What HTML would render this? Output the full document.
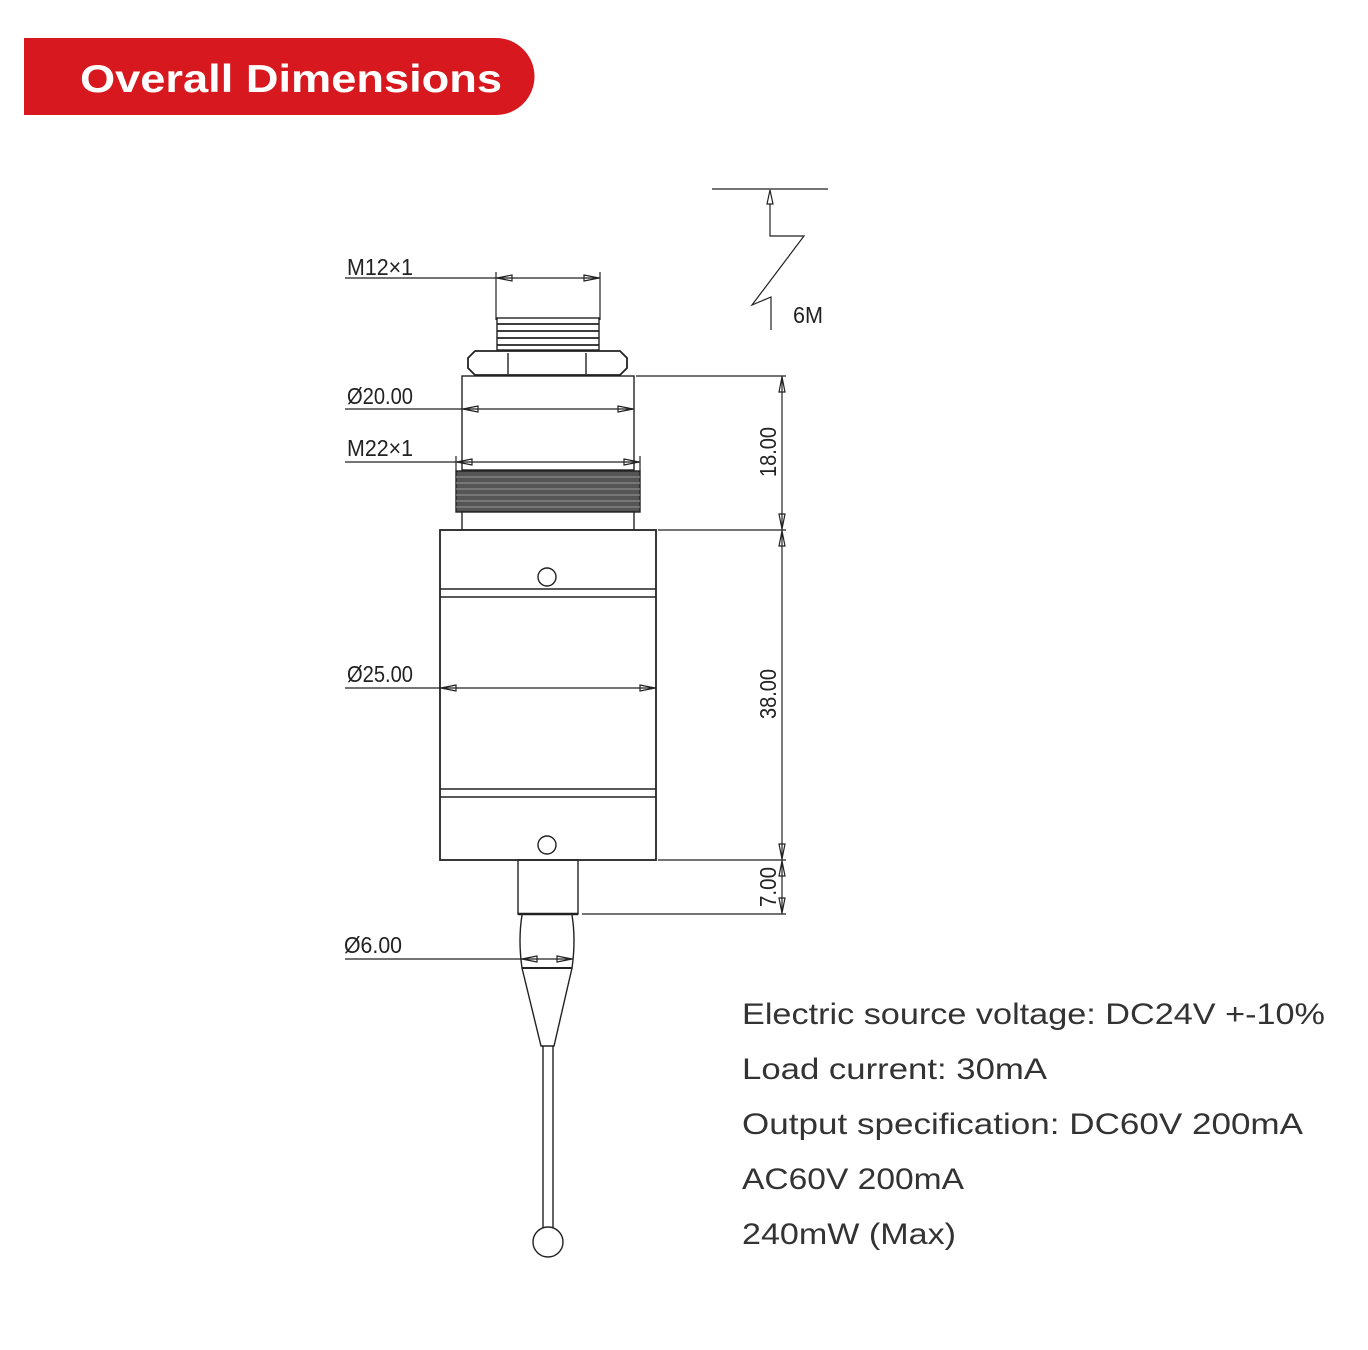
<!DOCTYPE html>
<html><head><meta charset="utf-8"><style>body{margin:0;background:#fff}svg{display:block}</style></head><body>
<svg width="1368" height="1350" viewBox="0 0 1368 1350" xmlns="http://www.w3.org/2000/svg" font-family="Liberation Sans, sans-serif">
<path d="M24 38 H496 A38.5 38.5 0 0 1 496 115 H24 Z" fill="#d7191f"/>
<text x="80" y="92" fill="#fff" font-size="39" font-weight="bold" textLength="422" lengthAdjust="spacingAndGlyphs">Overall Dimensions</text>
<g stroke="#222" stroke-width="1.4" fill="none">
<!-- M12 thread -->
<rect x="497" y="318" width="102" height="32" fill="#fff"/>
<g stroke-width="1.8"><line x1="497" y1="324" x2="599" y2="324"/><line x1="497" y1="331" x2="599" y2="331"/><line x1="497" y1="338" x2="599" y2="338"/><line x1="497" y1="345" x2="599" y2="345"/></g>
<!-- nut -->
<path d="M475 351 H620 L627 358 V368 L620 375 H475 L468 368 V358 Z" fill="#fff" stroke-width="1.8"/>
<line x1="508" y1="353" x2="508" y2="374"/><line x1="586" y1="353" x2="586" y2="374"/>
<!-- Ø20 body -->
<rect x="462" y="376" width="172" height="94" fill="#fff"/>
<!-- M22 thread -->
<rect x="456" y="471" width="184" height="41" fill="#555" stroke="#222"/>
<g stroke="#999" stroke-width="1"><line x1="456" y1="477" x2="640" y2="477"/><line x1="456" y1="483" x2="640" y2="483"/><line x1="456" y1="489" x2="640" y2="489"/><line x1="456" y1="495" x2="640" y2="495"/><line x1="456" y1="501" x2="640" y2="501"/><line x1="456" y1="507" x2="640" y2="507"/></g>
<rect x="462" y="512" width="172" height="18" fill="#fff"/>
<!-- main body -->
<rect x="440" y="530" width="216" height="330" fill="#fff" stroke-width="1.8"/>
<line x1="440" y1="589" x2="656" y2="589"/><line x1="440" y1="597" x2="656" y2="597"/>
<line x1="440" y1="789" x2="656" y2="789"/><line x1="440" y1="797" x2="656" y2="797"/>
<circle cx="547" cy="577" r="9"/><circle cx="547" cy="845" r="9"/>
<!-- stem -->
<rect x="518" y="860" width="60" height="54"/>
<line x1="518" y1="914" x2="578" y2="914" stroke-width="2.5"/>
<path d="M522 915 Q518 940 522 968 H572 Q576 940 572 915"/>
<line x1="522" y1="968" x2="572" y2="968" stroke-width="2"/>
<path d="M522 968 L541 1046 H554 L572 968"/>
<line x1="543" y1="1046" x2="543" y2="1228"/><line x1="553" y1="1046" x2="553" y2="1228"/>
<circle cx="548" cy="1242" r="15" fill="#fff"/>
</g>
<g stroke="#222" stroke-width="1.2" fill="none">
<!-- left dims -->
<line x1="345" y1="278" x2="600" y2="278"/><line x1="496" y1="272" x2="496" y2="320"/><line x1="600" y1="272" x2="600" y2="320"/>
<line x1="345" y1="409" x2="634" y2="409"/>
<line x1="345" y1="462" x2="640" y2="462"/><line x1="456" y1="456" x2="456" y2="471"/><line x1="640" y1="456" x2="640" y2="471"/>
<line x1="345" y1="688" x2="656" y2="688"/>
<line x1="345" y1="959" x2="573" y2="959"/>
<!-- arrows -->
<path d="M497 278 l15 -3 v6 z M599 278 l-15 -3 v6 z M463 409 l15 -3 v6 z M633 409 l-15 -3 v6 z M457 462 l15 -3 v6 z M639 462 l-15 -3 v6 z M441 688 l15 -3 v6 z M655 688 l-15 -3 v6 z M522 959 l15 -3 v6 z M572 959 l-15 -3 v6 z"/>
<!-- right dims -->
<line x1="782" y1="376" x2="782" y2="914"/>
<line x1="636" y1="376" x2="786" y2="376"/><line x1="658" y1="530" x2="786" y2="530"/><line x1="658" y1="860" x2="786" y2="860"/><line x1="582" y1="914" x2="786" y2="914"/>
<path d="M782 377 l-3 15 h6 z M782 529 l-3 -15 h6 z M782 531 l-3 15 h6 z M782 859 l-3 -15 h6 z M782 861 l-3 15 h6 z M782 913 l-3 -15 h6 z"/>
<!-- 6M -->
<line x1="712" y1="189" x2="828" y2="189"/>
<path d="M770 190 l-3 14 h6 z"/>
<path d="M770 204 V236 H804 L752 305 L771 297 V330"/>
</g>
<g fill="#222" font-size="23">
<text x="347" y="275" textLength="66" lengthAdjust="spacingAndGlyphs">M12×1</text>
<text x="347" y="404" textLength="66" lengthAdjust="spacingAndGlyphs">Ø20.00</text>
<text x="347" y="456" textLength="66" lengthAdjust="spacingAndGlyphs">M22×1</text>
<text x="347" y="682" textLength="66" lengthAdjust="spacingAndGlyphs">Ø25.00</text>
<text x="344" y="953" textLength="58" lengthAdjust="spacingAndGlyphs">Ø6.00</text>
<text x="793" y="323" textLength="30" lengthAdjust="spacingAndGlyphs">6M</text>
<text transform="translate(776,477) rotate(-90)" textLength="50" lengthAdjust="spacingAndGlyphs">18.00</text>
<text transform="translate(776,719) rotate(-90)" textLength="50" lengthAdjust="spacingAndGlyphs">38.00</text>
<text transform="translate(776,907) rotate(-90)" textLength="40" lengthAdjust="spacingAndGlyphs">7.00</text>
</g>
<g fill="#333" font-size="30">
<text x="742" y="1024" textLength="583" lengthAdjust="spacingAndGlyphs">Electric source voltage: DC24V +-10%</text>
<text x="742" y="1079" textLength="305" lengthAdjust="spacingAndGlyphs">Load current: 30mA</text>
<text x="742" y="1134" textLength="561" lengthAdjust="spacingAndGlyphs">Output specification: DC60V 200mA</text>
<text x="742" y="1189" textLength="222" lengthAdjust="spacingAndGlyphs">AC60V 200mA</text>
<text x="742" y="1244" textLength="214" lengthAdjust="spacingAndGlyphs">240mW (Max)</text>
</g>
</svg>
</body></html>
